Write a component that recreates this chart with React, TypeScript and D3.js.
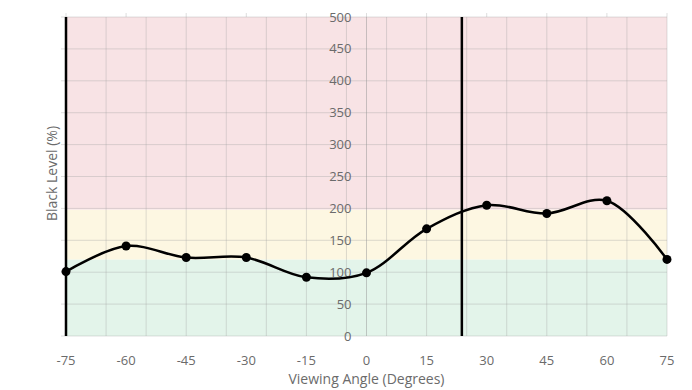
import React from "react";
import * as d3 from "d3";

const angles = [-75, -60, -45, -30, -15, 0, 15, 30, 45, 60, 75];
const blackLevel = [101, 141, 123, 123, 92, 99, 168, 205, 192, 212, 120];
const xTicks = [-75, -60, -45, -30, -15, 0, 15, 30, 45, 60, 75];
const xGrid = [-75, -65, -55, -45, -35, -25, -15, -5, 5, 15, 25, 35, 45, 55, 65, 75];
const yTicks = [0, 50, 100, 150, 200, 250, 300, 350, 400, 450, 500];
const bands = [
  { from: 0, to: 120, color: "#e3f4ea" },
  { from: 120, to: 198, color: "#fdf7e2" },
  { from: 198, to: 500, color: "#f8e3e5" },
];
const markerLines = [-75, 23.8];

const W = 692;
const H = 390;
const M = { left: 66, right: 25, top: 17, bottom: 54 };

export default function App() {
  const x = d3.scaleLinear().domain([-75, 75]).range([M.left, W - M.right]);
  const y = d3.scaleLinear().domain([0, 500]).range([H - M.bottom, M.top]);
  const line = d3
    .line<number>()
    .x((_, i) => x(angles[i]))
    .y((d) => y(d))
    .curve(d3.curveCatmullRom.alpha(0.5));
  const font = "'Open Sans', 'Noto Sans', sans-serif";
  const grid = "rgba(160,160,160,0.35)";
  return (
    <svg
      width={W}
      height={H}
      style={{ position: "absolute", left: 0, top: 0, background: "#fff" }}
      fontFamily={font}
    >
      {bands.map((b, i) => (
        <rect
          key={i}
          x={x(-75)}
          width={x(75) - x(-75)}
          y={y(b.to)}
          height={y(b.from) - y(b.to)}
          fill={b.color}
        />
      ))}
      {xGrid.map((v) => (
        <line key={"gx" + v} x1={x(v)} x2={x(v)} y1={y(0)} y2={y(500)} stroke={grid} strokeWidth={1} />
      ))}
      {yTicks.map((v) => (
        <line key={"gy" + v} x1={x(-75) - 5} x2={x(75)} y1={y(v)} y2={y(v)} stroke={grid} strokeWidth={1} />
      ))}
      {xTicks.map((v) => (
        <line key={"tt" + v} x1={x(v)} x2={x(v)} y1={y(500) - 4} y2={y(500)} stroke={grid} strokeWidth={1} />
      ))}
      <line x1={x(0)} x2={x(0)} y1={y(0)} y2={y(500)} stroke="rgba(150,150,150,0.5)" strokeWidth={1} />
      {markerLines.map((v) => (
        <line key={"m" + v} x1={x(v)} x2={x(v)} y1={y(0)} y2={y(500)} stroke="#000" strokeWidth={2.5} />
      ))}
      {yTicks.map((v) => (
        <text key={"yl" + v} x={x(0) - 15} y={y(v)} dy="0.35em" textAnchor="end" fontSize={13} fill="#6b6b6b">
          {v}
        </text>
      ))}
      {xTicks.map((v) => (
        <text key={"xl" + v} x={x(v)} y={y(0) + 29} textAnchor="middle" fontSize={13} fill="#6b6b6b">
          {v}
        </text>
      ))}
      <path d={line(blackLevel) || ""} fill="none" stroke="#000" strokeWidth={2.5} />
      {blackLevel.map((v, i) => (
        <circle key={"p" + i} cx={x(angles[i])} cy={y(v)} r={4.5} fill="#000" />
      ))}
      <text x={x(0)} y={H - 6} textAnchor="middle" fontSize={14} fill="#6b6b6b">
        Viewing Angle (Degrees)
      </text>
      <text
        transform={`translate(${57},${(y(0) + y(500)) / 2 - 3}) rotate(-90)`}
        textAnchor="middle"
        fontSize={14}
        fill="#6b6b6b"
      >
        Black Level (%)
      </text>
    </svg>
  );
}
